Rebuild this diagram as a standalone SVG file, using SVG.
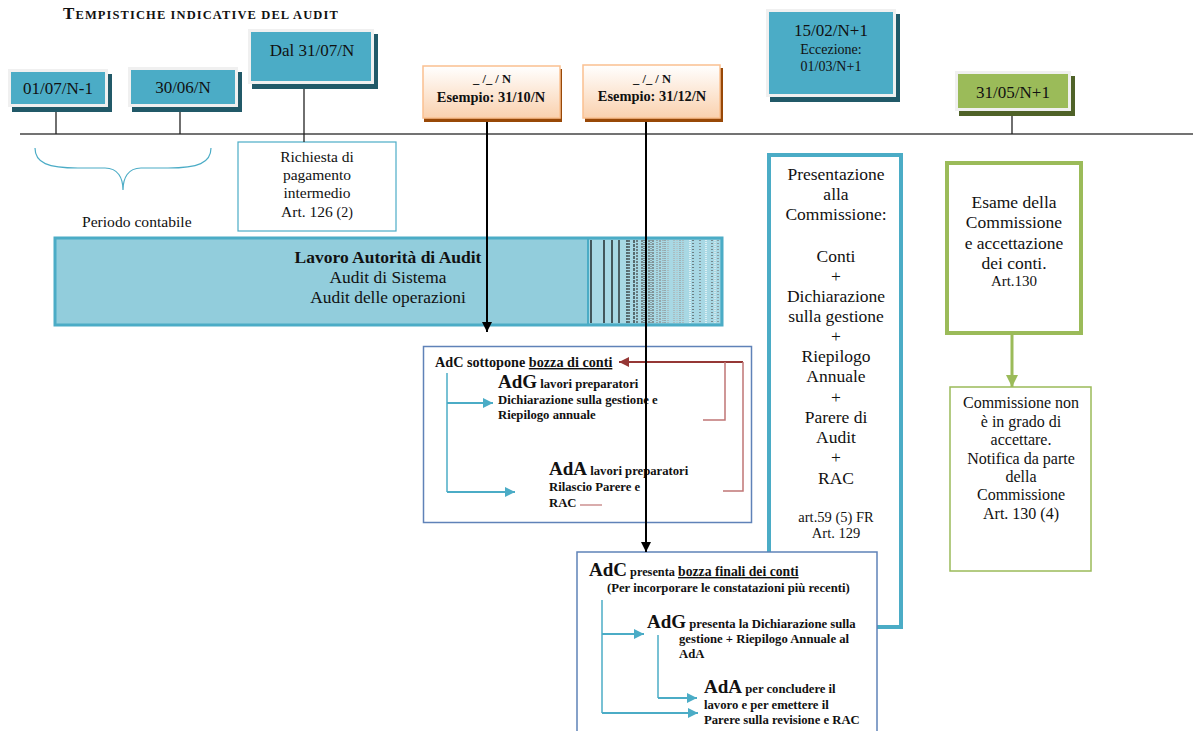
<svg xmlns="http://www.w3.org/2000/svg" width="1193" height="731" viewBox="0 0 1193 731">
<style>
text{font-family:"Liberation Serif","Times New Roman",serif;fill:#111}
.c{text-anchor:middle}
.b{font-weight:bold}
.s{font-size:12.7px}
.big{font-size:19px}
.u{text-decoration:underline}
.frame{fill:#F0F0F0}
.tealin{fill:#4BACC6}
.tealsh{fill:#215968}
.thin{stroke:#222;stroke-width:1.3;fill:none}
.blue{stroke:#4BACC6;stroke-width:2;fill:none}
.box{fill:#fff;stroke:#5F82B8;stroke-width:1.5}
.hatch line{stroke-width:1.2}
</style>
<defs>
<linearGradient id="og" x1="0" y1="0" x2="0" y2="1">
<stop offset="0" stop-color="#FFFFFF"/>
<stop offset="1" stop-color="#FAD1AE"/>
</linearGradient>
<marker id="ak" viewBox="0 0 10 10" refX="10" refY="5" markerWidth="5" markerHeight="5" orient="auto" markerUnits="strokeWidth"><path d="M0,0 L10,5 L0,10 z" fill="#000"/></marker>
<marker id="ab" viewBox="0 0 10 10" refX="10" refY="5" markerWidth="5.5" markerHeight="5" orient="auto" markerUnits="strokeWidth"><path d="M0,0 L10,5 L0,10 z" fill="#4BACC6"/></marker>
<marker id="ar" viewBox="0 0 10 10" refX="10" refY="5" markerWidth="6" markerHeight="5" orient="auto" markerUnits="strokeWidth"><path d="M0,0 L10,5 L0,10 z" fill="#953735"/></marker>
<marker id="ag" viewBox="0 0 10 10" refX="10" refY="5" markerWidth="4" markerHeight="4" orient="auto" markerUnits="strokeWidth"><path d="M0,0 L10,5 L0,10 z" fill="#9BBB59"/></marker>
</defs>
<rect width="1193" height="731" fill="#fff"/>

<g id="title">
<text x="63" y="19" class="b" style="letter-spacing:1.1px"><tspan font-size="17">T</tspan><tspan font-size="12.5">EMPISTICHE INDICATIVE DEL AUDIT</tspan></text>
</g>

<g id="timeline">
<line x1="20" y1="134" x2="1193" y2="134" stroke="#444" stroke-width="1.3"/>
</g>

<g id="d0107">
<rect x="12" y="74" width="100" height="38" class="tealsh"/>
<rect x="8" y="69" width="100" height="38" class="frame"/>
<rect x="11" y="72" width="94" height="32" class="tealin"/>
<text x="58" y="94" class="c" font-size="17">01/07/N-1</text>
</g>

<g id="d3006">
<rect x="132" y="72" width="110" height="40" class="tealsh"/>
<rect x="128" y="67" width="110" height="40" class="frame"/>
<rect x="131" y="70" width="104" height="34" class="tealin"/>
<text x="183" y="93" class="c" font-size="17">30/06/N</text>
</g>

<g id="d3107">
<rect x="252" y="34" width="126" height="55" class="tealsh"/>
<rect x="248" y="29" width="126" height="55" class="frame"/>
<rect x="251" y="32" width="120" height="49" class="tealin"/>
<text x="312" y="56" class="c" font-size="17">Dal 31/07/N</text>
</g>

<g id="d1510">
<rect x="424" y="69" width="138" height="53" fill="#984807"/>
<rect x="423" y="66" width="137" height="52" fill="url(#og)" stroke="#FAC090" stroke-width="1.5"/>
<text x="492" y="83" class="c b" font-size="12.5">_ /_ / N</text>
<text x="491" y="102" class="c b" font-size="14.4">Esempio: 31/10/N</text>
</g>

<g id="d3112">
<rect x="585" y="68" width="138" height="54" fill="#984807"/>
<rect x="583" y="65" width="137" height="53" fill="url(#og)" stroke="#FAC090" stroke-width="1.5"/>
<text x="652" y="82.5" class="c b" font-size="12.5">_ /_ / N</text>
<text x="652" y="101" class="c b" font-size="14.4">Esempio: 31/12/N</text>
</g>

<g id="d1502">
<rect x="770" y="14" width="130" height="88" class="tealsh"/>
<rect x="766" y="9" width="130" height="88" class="frame"/>
<rect x="769" y="12" width="124" height="82" class="tealin"/>
<text x="831" y="36" class="c" font-size="17">15/02/N+1</text>
<text x="831" y="54" class="c" font-size="14">Eccezione:</text>
<text x="831" y="71" class="c" font-size="14">01/03/N+1</text>
</g>

<g id="d3105">
<rect x="959" y="76" width="116" height="40" fill="#4F6228"/>
<rect x="955" y="71" width="116" height="40" class="frame"/>
<rect x="958" y="74" width="110" height="34" fill="#9BBB59"/>
<text x="1013" y="98" class="c" font-size="17">31/05/N+1</text>
</g>

<g id="periodo">
<path d="M35,148 C35,163 48,168 78,168 L105,168 C118,168 123,178 123,190 C123,178 128,168 141,168 L168,168 C198,168 211,163 211,148" fill="none" stroke="#4BACC6" stroke-width="1.2"/>
<text x="82" y="227" font-size="15.6">Periodo contabile</text>
</g>

<g id="richiesta">
<rect x="238" y="142" width="158" height="89" fill="#fff" stroke="#4BACC6" stroke-width="1.2"/>
<text x="317" y="162" class="c" font-size="15.5">Richiesta di</text>
<text x="317" y="180" class="c" font-size="15.5">pagamento</text>
<text x="317" y="198" class="c" font-size="15.5">intermedio</text>
<text x="317" y="217" class="c" font-size="15.5">Art. 126 <tspan font-size="14">(2)</tspan></text>
</g>

<g id="lavoro">
<rect x="55" y="238" width="667" height="87" fill="#92CDDC" stroke="#4BACC6" stroke-width="3"/>
<rect x="589" y="240" width="131" height="83" fill="#A8D8E4"/>
<g class="hatch">
<line x1="591" y1="240" x2="591" y2="323" stroke="#000"/>
<line x1="604" y1="240" x2="604" y2="323" stroke="#000"/>
<line x1="612" y1="240" x2="612" y2="323" stroke="#000"/>
<line x1="619" y1="240" x2="619" y2="323" stroke="#111" stroke-width="1.6"/>
<line x1="627" y1="240" x2="627" y2="323" stroke="#222" stroke-width="1.6" stroke-dasharray="2,1"/>
<line x1="629" y1="240" x2="629" y2="323" stroke="#333" stroke-dasharray="2,1"/>
<line x1="634" y1="240" x2="634" y2="323" stroke="#222" stroke-dasharray="3,1"/>
<line x1="637" y1="240" x2="637" y2="323" stroke="#444" stroke-dasharray="2,1"/>
<line x1="642" y1="240" x2="642" y2="323" stroke="#555" stroke-dasharray="2,1"/>
<line x1="644" y1="240" x2="644" y2="323" stroke="#555" stroke-dasharray="1,1"/>
<line x1="649" y1="240" x2="649" y2="323" stroke="#666" stroke-dasharray="2,1"/>
<line x1="651" y1="240" x2="651" y2="323" stroke="#777" stroke-dasharray="1,1"/>
<line x1="653" y1="240" x2="653" y2="323" stroke="#666" stroke-dasharray="2,1"/>
<line x1="657" y1="240" x2="657" y2="323" stroke="#888" stroke-dasharray="1,1"/>
<line x1="660" y1="240" x2="660" y2="323" stroke="#888" stroke-dasharray="2,1"/>
<line x1="663" y1="240" x2="663" y2="323" stroke="#999" stroke-dasharray="1,1"/>
<line x1="665" y1="240" x2="665" y2="323" stroke="#888" stroke-dasharray="1,1"/>
<line x1="668" y1="240" x2="668" y2="323" stroke="#aaa" stroke-dasharray="1,1"/>
<line x1="674" y1="240" x2="674" y2="323" stroke="#aaa" stroke-dasharray="1,1"/>
<line x1="677" y1="240" x2="677" y2="323" stroke="#bbb" stroke-dasharray="1,1"/>
<line x1="680" y1="240" x2="680" y2="323" stroke="#999" stroke-dasharray="1,1"/>
<line x1="683" y1="240" x2="683" y2="323" stroke="#aaa" stroke-dasharray="1,1"/>
<line x1="690" y1="240" x2="690" y2="323" stroke="#fff" stroke-dasharray="1,1"/>
<line x1="693" y1="240" x2="693" y2="323" stroke="#444" stroke-dasharray="1,2"/>
<line x1="700" y1="240" x2="700" y2="323" stroke="#666" stroke-dasharray="1,2"/>
<line x1="706" y1="240" x2="706" y2="323" stroke="#fff" stroke-dasharray="1,1"/>
<line x1="712" y1="240" x2="712" y2="323" stroke="#555" stroke-dasharray="1,2"/>
<line x1="715" y1="240" x2="715" y2="323" stroke="#eee" stroke-dasharray="1,1"/>
<line x1="718" y1="240" x2="718" y2="323" stroke="#777" stroke-dasharray="1,2"/>
</g>
<line x1="588" y1="239" x2="588" y2="324" stroke="#4BACC6" stroke-width="2"/>
<text x="388" y="263" class="c b" font-size="17.5">Lavoro Autorità di Audit</text>
<text x="388" y="283" class="c" font-size="17.4">Audit di Sistema</text>
<text x="388" y="303" class="c" font-size="17.4">Audit delle operazioni</text>
</g>

<g id="bozza">
<rect x="423.5" y="346.5" width="328" height="176" class="box"/>
<text x="435" y="367" class="b" font-size="14.2">AdC sottopone <tspan class="u">bozza di conti</tspan></text>
<text x="498" y="388" class="b"><tspan class="big">AdG</tspan><tspan class="s"> lavori preparatori</tspan></text>
<text x="498" y="404" class="b s">Dichiarazione sulla gestione e</text>
<text x="498" y="419" class="b s">Riepilogo annuale</text>
<text x="549" y="475" class="b"><tspan class="big">AdA</tspan><tspan class="s"> lavori preparatori</tspan></text>
<text x="549" y="491" class="b s">Rilascio Parere e</text>
<text x="549" y="507" class="b s">RAC</text>
</g>

<g id="presentazione">
<rect x="769" y="155" width="132" height="472" fill="#fff" stroke="#4BACC6" stroke-width="4"/>
<g font-size="17.5">
<text x="836" y="180" class="c">Presentazione</text>
<text x="836" y="200" class="c">alla</text>
<text x="836" y="220" class="c">Commissione:</text>
<text x="836" y="262" class="c">Conti</text>
<text x="836" y="282" class="c">+</text>
<text x="836" y="302" class="c">Dichiarazione</text>
<text x="836" y="322" class="c">sulla gestione</text>
<text x="836" y="342" class="c">+</text>
<text x="836" y="362" class="c">Riepilogo</text>
<text x="836" y="382" class="c">Annuale</text>
<text x="836" y="403" class="c">+</text>
<text x="836" y="423" class="c">Parere di</text>
<text x="836" y="443" class="c">Audit</text>
<text x="836" y="463" class="c">+</text>
<text x="836" y="484" class="c">RAC</text>
</g>
<text x="836" y="522" class="c" font-size="14.5">art.59 (5) FR</text>
<text x="836" y="538" class="c" font-size="14.5">Art. 129</text>
</g>

<g id="finali">
<rect x="577" y="552" width="300" height="190" class="box"/>
<text x="589" y="576" class="b"><tspan class="big">AdC</tspan><tspan font-size="12.3"> presenta </tspan><tspan font-size="13.7" class="u">bozza finali dei conti</tspan></text>
<text x="607" y="592" class="b s">(Per incorporare le constatazioni più recenti)</text>
<text x="647" y="628" class="b"><tspan class="big">AdG</tspan><tspan class="s"> presenta la Dichiarazione sulla</tspan></text>
<text x="679" y="643" class="b s">gestione + Riepilogo Annuale al</text>
<text x="679" y="658" class="b s">AdA</text>
<text x="704" y="693" class="b"><tspan class="big">AdA</tspan><tspan class="s"> per concludere il</tspan></text>
<text x="704" y="709" class="b s">lavoro e per emettere il</text>
<text x="704" y="724" class="b s">Parere sulla revisione e RAC</text>
</g>

<g id="esame">
<rect x="947" y="163" width="134" height="170" fill="#fff" stroke="#9BBB59" stroke-width="4"/>
<text x="1014" y="208" class="c" font-size="17.5">Esame della</text>
<text x="1014" y="228" class="c" font-size="17.5">Commissione</text>
<text x="1014" y="249" class="c" font-size="17.5">e accettazione</text>
<text x="1014" y="269" class="c" font-size="17.5">dei conti.</text>
<text x="1014" y="286" class="c" font-size="15">Art.130</text>
</g>

<g id="nonaccetta">
<rect x="950" y="387" width="141" height="184" fill="#fff" stroke="#9BBB59" stroke-width="1.5"/>
<text x="1021" y="408" class="c" font-size="16">Commissione non</text>
<text x="1021" y="427" class="c" font-size="16">è in grado di</text>
<text x="1021" y="445" class="c" font-size="16">accettare.</text>
<text x="1021" y="464" class="c" font-size="16">Notifica da parte</text>
<text x="1021" y="482" class="c" font-size="16">della</text>
<text x="1021" y="500" class="c" font-size="16">Commissione</text>
<text x="1021" y="519" class="c" font-size="16">Art. 130 (4)</text>
</g>

<g id="connectors">
<line x1="56" y1="112" x2="56" y2="134" class="thin"/>
<line x1="180" y1="112" x2="180" y2="134" class="thin"/>
<line x1="304" y1="89" x2="304" y2="142" class="thin"/>
<line x1="1012" y1="116" x2="1012" y2="134" class="thin"/>
<line x1="447" y1="373" x2="447" y2="492" stroke="#4BACC6" stroke-width="1.5"/>
<line x1="447" y1="403" x2="493" y2="403" class="blue" marker-end="url(#ab)"/>
<line x1="447" y1="492" x2="515" y2="492" class="blue" marker-end="url(#ab)"/>
<polyline points="743,362 619,362" fill="none" stroke="#953735" stroke-width="2" marker-end="url(#ar)"/>
<polyline points="725,362 725,420 703,420" fill="none" stroke="#C07575" stroke-width="1.5"/>
<polyline points="743,362 743,491 723,491" fill="none" stroke="#C07575" stroke-width="1.5"/>
<line x1="580" y1="505" x2="602" y2="505" stroke="#C07575" stroke-width="1.2"/>
<line x1="602" y1="600" x2="602" y2="713" stroke="#4BACC6" stroke-width="1.5"/>
<line x1="602" y1="634" x2="644" y2="634" class="blue" marker-end="url(#ab)"/>
<line x1="602" y1="713" x2="698" y2="713" class="blue" marker-end="url(#ab)"/>
<line x1="658" y1="635" x2="658" y2="698" stroke="#4BACC6" stroke-width="1.5"/>
<line x1="658" y1="698" x2="697" y2="698" class="blue" marker-end="url(#ab)"/>
<line x1="1012" y1="335" x2="1012" y2="387" stroke="#9BBB59" stroke-width="3" marker-end="url(#ag)"/>
<line x1="487" y1="122" x2="487" y2="332" stroke="#000" stroke-width="2" marker-end="url(#ak)"/>
<line x1="646" y1="122" x2="646" y2="552" stroke="#000" stroke-width="2" marker-end="url(#ak)"/>
</g>
</svg>
